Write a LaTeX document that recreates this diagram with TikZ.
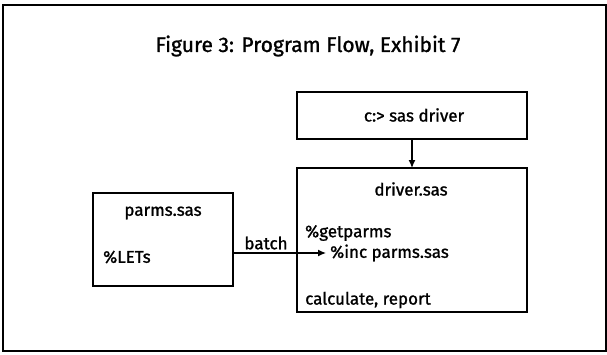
\documentclass[tikz,border=0pt]{standalone}
\usepackage{fontspec}
\setmainfont{Fira Sans}[FakeBold=1.2]
\usetikzlibrary{arrows.meta}
\begin{document}
\begin{tikzpicture}[x=1pt,y=-1pt,
  frame/.style={draw=black,line width=1.8pt},
  box/.style={draw=black,line width=1.8pt},
  lbl/.style={font=\fontsize{17}{20}\selectfont,inner sep=0pt},
  conn/.style={draw=black,line width=1.3pt,-{Latex[length=8pt,width=7pt]}}]
  \useasboundingbox (0,0) rectangle (607,354);
  % outer frame
  \draw[frame] (3,5) rectangle (606,351);
  % title
  \node[inner sep=0pt,font=\fontsize{21}{24}\selectfont] (title) at (308,46) {Figure 3: Program Flow, Exhibit 7};
  % command box
  \draw[box] (297,92) rectangle (527,139);
  \coordinate (cmdbot) at (412,139);
  \node[lbl] (cmd) at (414,115) {c:> sas driver};
  % driver program box
  \draw[box] (297,168) rectangle (527,312);
  \coordinate (drvtop) at (412,168);
  \node[lbl] (drv) at (411,189) {driver.sas};
  \node[lbl,anchor=west] (getp) at (305,233) {\%getparms};
  \node[lbl,anchor=west] (inc) at (330,253) {\%inc parms.sas};
  \coordinate (inctip) at (326,253);
  \node[lbl,anchor=west] (calc) at (305,300) {calculate, report};
  % parameter file box
  \draw[box] (93,193) rectangle (233,286);
  \coordinate (parmsright) at (233,253);
  \node[lbl] (parms) at (163,213) {parms.sas};
  \node[lbl,anchor=west] (lets) at (103,257) {\%LETs};
  % connectors
  \draw[conn] (cmdbot) -- (drvtop);
  \draw[conn] (parmsright) -- (inctip);
  \node[lbl] (batch) at (266,243) {batch};
\end{tikzpicture}
\end{document}
